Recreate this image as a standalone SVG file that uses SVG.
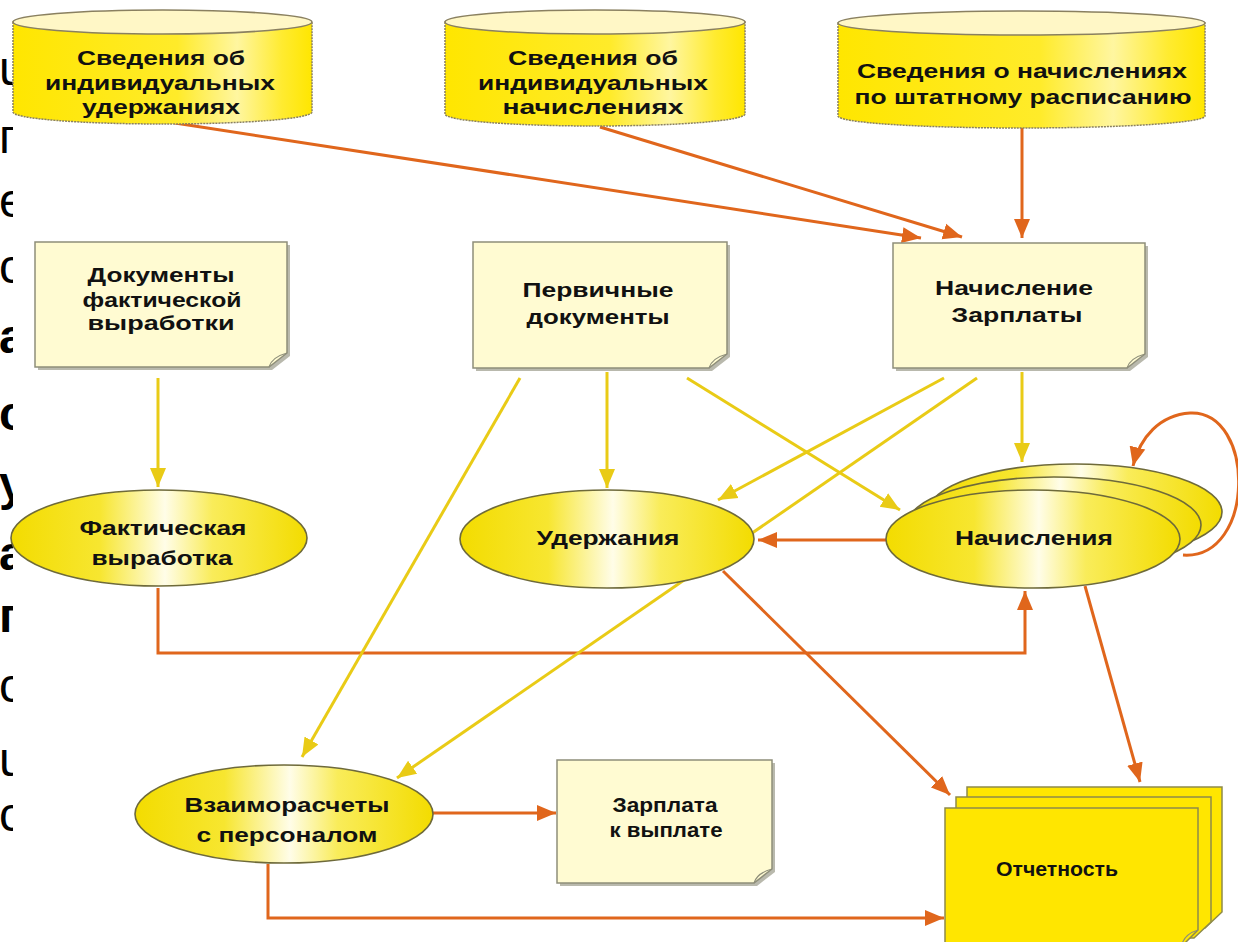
<svg xmlns="http://www.w3.org/2000/svg" width="1238" height="942" viewBox="0 0 1238 942">
<style>
.t{font-family:"Liberation Sans",Arial,sans-serif;font-weight:bold;font-size:21px;fill:#111;text-anchor:middle}
.frag{font-family:"Liberation Sans",Arial,sans-serif;font-size:48px;fill:#000}
.fb{font-weight:bold}
.cylTop{fill:#FFF7C6;stroke:#8a8060;stroke-width:1.5}
.cylBody{fill:url(#gCyl);stroke:#8a8060;stroke-width:1.5;stroke-dasharray:2 1}
.doc{fill:#FFFBD2;stroke:#8e8e7a;stroke-width:1.5}
.shadow{fill:#b9b9ad}
.fold{fill:none;stroke:#8e8e7a;stroke-width:1.2}
.ell{fill:url(#gEll);stroke:#6e6a3a;stroke-width:1.6}
.rep{fill:#FFE600;stroke:#8e8a4a;stroke-width:1.5}
.co{fill:none;stroke:#E0661C;stroke-width:3;marker-end:url(#aO)}
.cy{fill:none;stroke:#E9CB16;stroke-width:3;marker-end:url(#aY)}
</style>
<defs>
<linearGradient id="gCyl" x1="0" y1="0" x2="1" y2="0">
<stop offset="0" stop-color="#FFE600"/>
<stop offset="0.55" stop-color="#FFEB2A"/>
<stop offset="0.75" stop-color="#FFF6A0"/>
<stop offset="0.9" stop-color="#FFEB30"/>
<stop offset="1" stop-color="#FFE600"/>
</linearGradient>
<linearGradient id="gEll" x1="0" y1="0" x2="1" y2="0">
<stop offset="0" stop-color="#F3DC00"/>
<stop offset="0.3" stop-color="#F7E630"/>
<stop offset="0.52" stop-color="#FFFDE8"/>
<stop offset="0.68" stop-color="#F9EC5A"/>
<stop offset="1" stop-color="#F3DC00"/>
</linearGradient>
<marker id="aO" markerUnits="userSpaceOnUse" markerWidth="20" markerHeight="18" refX="19" refY="9" orient="auto">
<path d="M0,1 L19,9 L0,17 Z" fill="#E0661C"/>
</marker>
<marker id="aY" markerUnits="userSpaceOnUse" markerWidth="20" markerHeight="18" refX="19" refY="9" orient="auto">
<path d="M0,1 L19,9 L0,17 Z" fill="#E9CB16"/>
</marker>
<clipPath id="leftClip"><rect x="0" y="0" width="13" height="942"/></clipPath>
</defs>
<rect x="0" y="0" width="1238" height="942" fill="#FFFFFF"/>

<g id="left-fragments" clip-path="url(#leftClip)">
<text class="frag" x="-1" y="85">u</text>
<text class="frag" x="-1" y="153">п</text>
<text class="frag" x="-1" y="217">e</text>
<text class="frag" x="-1" y="283">c</text>
<text class="frag fb" x="-1" y="353">a</text>
<text class="frag fb" x="-1" y="430">c</text>
<text class="frag fb" x="-1" y="500">y</text>
<text class="frag fb" x="-1" y="570">a</text>
<text class="frag fb" x="-1" y="632">п</text>
<text class="frag" x="-1" y="702">c</text>
<text class="frag" x="-1" y="776">u</text>
<text class="frag" x="-1" y="831">c</text>
</g>

<g id="connectors">
<path class="co" d="M175,123 L921,238"/>
<path class="co" d="M600,127 L962,237"/>
<path class="co" d="M1022,128 V238"/>
<path class="co" d="M886,540 H758"/>
<path class="co" d="M158,588 V653 H1025 V591"/>
<path class="co" d="M723,571 L950,795"/>
<path class="co" d="M1085,586 L1140,782"/>
<path class="co" d="M433,813 H556"/>
<path class="co" d="M268,864 V918 H944"/>
<path class="co" d="M1183,555 C1256,560 1256,410 1190,413 C1160,415 1140,437 1133,466"/>
<path class="cy" d="M158,378 V487"/>
<path class="cy" d="M607,372 V488"/>
<path class="cy" d="M520,378 L302,757"/>
<path class="cy" d="M687,378 L900,510"/>
<path class="cy" d="M944,378 L718,500"/>
<path class="cy" d="M977,378 L397,778"/>
<path class="cy" d="M1022,372 V462"/>
</g>

<g id="cyl-uderzh">
<path class="cylBody" d="M13,22 V112 A149.5,12 0 0 0 312,112 V22 Z"/>
<ellipse class="cylTop" cx="162.5" cy="22" rx="149.5" ry="12"/>
<text class="t" x="161" y="65" textLength="168" lengthAdjust="spacingAndGlyphs">Сведения об</text>
<text class="t" x="160" y="90" textLength="230" lengthAdjust="spacingAndGlyphs">индивидуальных</text>
<text class="t" x="161" y="114" textLength="158" lengthAdjust="spacingAndGlyphs">удержаниях</text>
</g>

<g id="cyl-nachisl">
<path class="cylBody" d="M445,22 V114 A150,12 0 0 0 745,114 V22 Z"/>
<ellipse class="cylTop" cx="595" cy="22" rx="150" ry="12"/>
<text class="t" x="593" y="65" textLength="170" lengthAdjust="spacingAndGlyphs">Сведения об</text>
<text class="t" x="593" y="90" textLength="230" lengthAdjust="spacingAndGlyphs">индивидуальных</text>
<text class="t" x="593" y="114" textLength="181" lengthAdjust="spacingAndGlyphs">начислениях</text>
</g>

<g id="cyl-shtat">
<path class="cylBody" d="M838,23 V116 A183.5,12 0 0 0 1205,116 V23 Z"/>
<ellipse class="cylTop" cx="1021.5" cy="23" rx="183.5" ry="12"/>
<text class="t" x="1022" y="78" textLength="330" lengthAdjust="spacingAndGlyphs">Сведения о начислениях</text>
<text class="t" x="1023" y="104" textLength="337" lengthAdjust="spacingAndGlyphs">по штатному расписанию</text>
</g>

<g id="doc-fakt">
<path class="shadow" d="M38,245 H290 V356 L272,370 H38 Z"/>
<path class="doc" d="M35,242 H287 V353 L269,367 H35 Z"/>
<path class="fold" d="M269,367 Q272,357 287,353"/>
<text class="t" x="161" y="282" textLength="147" lengthAdjust="spacingAndGlyphs">Документы</text>
<text class="t" x="162" y="307" textLength="159" lengthAdjust="spacingAndGlyphs">фактической</text>
<text class="t" x="161" y="330" textLength="147" lengthAdjust="spacingAndGlyphs">выработки</text>
</g>

<g id="doc-perv">
<path class="shadow" d="M476,245 H730 V357 L712,371 H476 Z"/>
<path class="doc" d="M473,242 H727 V354 L709,368 H473 Z"/>
<path class="fold" d="M709,368 Q712,358 727,354"/>
<text class="t" x="598" y="297" textLength="151" lengthAdjust="spacingAndGlyphs">Первичные</text>
<text class="t" x="598" y="324" textLength="143" lengthAdjust="spacingAndGlyphs">документы</text>
</g>

<g id="doc-zarpl">
<path class="shadow" d="M896,246 H1148 V357 L1130,371 H896 Z"/>
<path class="doc" d="M893,243 H1145 V354 L1127,368 H893 Z"/>
<path class="fold" d="M1127,368 Q1130,358 1145,354"/>
<text class="t" x="1014" y="295" textLength="158" lengthAdjust="spacingAndGlyphs">Начисление</text>
<text class="t" x="1017" y="322" textLength="131" lengthAdjust="spacingAndGlyphs">Зарплаты</text>
</g>

<g id="doc-vyplata">
<path class="shadow" d="M560,763 H775 V872 L757,886 H560 Z"/>
<path class="doc" d="M557,760 H772 V869 L754,883 H557 Z"/>
<path class="fold" d="M754,883 Q757,873 772,869"/>
<text class="t" x="665" y="812" textLength="105" lengthAdjust="spacingAndGlyphs">Зарплата</text>
<text class="t" x="666" y="837" textLength="113" lengthAdjust="spacingAndGlyphs">к выплате</text>
</g>

<g id="ell-fakt">
<ellipse class="ell" cx="159" cy="538" rx="148" ry="48"/>
<text class="t" x="163" y="535" textLength="167" lengthAdjust="spacingAndGlyphs">Фактическая</text>
<text class="t" x="162" y="565" textLength="141" lengthAdjust="spacingAndGlyphs">выработка</text>
</g>

<g id="ell-uderzh">
<ellipse class="ell" cx="607" cy="539" rx="147" ry="49"/>
<text class="t" x="608" y="545" textLength="143" lengthAdjust="spacingAndGlyphs">Удержания</text>
</g>

<g id="ell-nachisl">
<ellipse class="ell" cx="1075" cy="512" rx="147" ry="48"/>
<ellipse class="ell" cx="1054" cy="525" rx="147" ry="48"/>
<ellipse class="ell" cx="1033" cy="539" rx="147" ry="49"/>
<text class="t" x="1034" y="545" textLength="158" lengthAdjust="spacingAndGlyphs">Начисления</text>
</g>

<g id="ell-vzaim">
<ellipse class="ell" cx="284" cy="814" rx="149" ry="49"/>
<text class="t" x="287" y="812" textLength="205" lengthAdjust="spacingAndGlyphs">Взаиморасчеты</text>
<text class="t" x="287" y="842" textLength="181" lengthAdjust="spacingAndGlyphs">с персоналом</text>
</g>

<g id="rep-otchet">
<path class="rep" d="M967,787 H1222 V912 L1205,928 H967 Z"/>
<path class="rep" d="M956,797 H1211 V922 L1194,938 H956 Z"/>
<path class="rep" d="M945,808 H1198 V930 L1182,946 H945 Z"/>
<path class="fold" d="M1182,944 Q1185,934 1198,930"/>
<text class="t" x="1057" y="876" textLength="122" lengthAdjust="spacingAndGlyphs">Отчетность</text>
</g>
</svg>
